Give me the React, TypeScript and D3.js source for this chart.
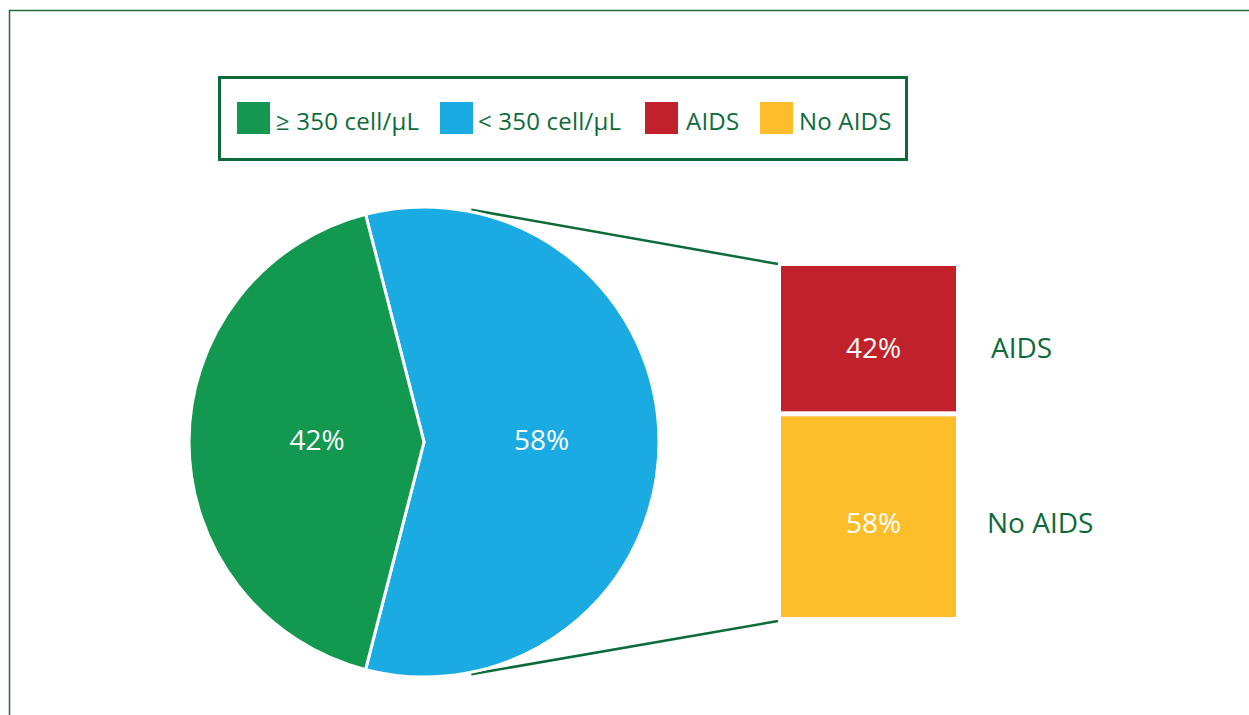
import React from "react";
import * as d3 from "d3";

const pieCategories = ["< 350 cell/μL", "≥ 350 cell/μL"];
const pieValues = [58, 42];
const pieColors = ["#1aabe2", "#13984f"];

const barCategories = ["AIDS", "No AIDS"];
const barValues = [42, 58];
const barColors = ["#c1212a", "#febd2b"];

const legendLabels = ["≥ 350 cell/μL", "< 350 cell/μL", "AIDS", "No AIDS"];
const legendColors = ["#13984f", "#1aabe2", "#c1212a", "#febd2b"];

const W = 1249;
const H = 715;
const DARK = "#0d6b3b";
const FONT = "'Open Sans', 'Noto Sans', sans-serif";

export default function App() {
  const cx = 424;
  const cy = 442;
  const r = 235;
  const start = (-14.4 * Math.PI) / 180;
  const pie = d3
    .pie<number>()
    .sort(null)
    .value((d) => d)
    .startAngle(start)
    .endAngle(start + 2 * Math.PI);
  const arcs = pie(pieValues);
  const arc = d3.arc<d3.PieArcDatum<number>>().innerRadius(0).outerRadius(r);
  const labelRadius = [r, r * 0.91];
  const labelDy = [10, 7];

  // bar
  const barX = 781;
  const barW = 175;
  const gap = 5;
  const y = d3.scaleLinear().domain([0, 100]).range([266, 612]);
  let acc = 0;
  const segs = barValues.map((v, i) => {
    const y0 = y(acc) + i * gap;
    const y1 = y(acc + v) + i * gap;
    acc += v;
    return { v, i, y0, y1 };
  });

  const barTop = segs[0].y0;
  const barBot = segs[segs.length - 1].y1;
  const a1 = (11.5 * Math.PI) / 180;
  const a2 = (168.5 * Math.PI) / 180;
  const p1 = [cx + (r + 2) * Math.sin(a1), cy - (r + 2) * Math.cos(a1)];
  const p2 = [cx + (r + 2) * Math.sin(a2), cy - (r + 2) * Math.cos(a2)];

  const legendX = [237, 440, 645, 760];
  const legendTextX = [276, 478, 686, 799];

  return (
    <svg width={W} height={H} style={{ position: "absolute", left: 0, top: 0 }}>
      <rect x={0} y={0} width={W} height={H} fill="#fff" />
      <path d={`M9.5,${H} L9.5,10.5 L${W},10.5`} fill="none" stroke="#1f6b3f" strokeWidth={1.5} />

      {/* legend */}
      <rect x={219.5} y={77.5} width={687} height={82} fill="none" stroke={DARK} strokeWidth={3} />
      {legendLabels.map((l, i) => (
        <g key={l}>
          <rect x={legendX[i]} y={102} width={33} height={32} fill={legendColors[i]} />
          <text x={legendTextX[i]} y={130} fontFamily={FONT} fontSize={24} fill={DARK} letterSpacing={0.2}>
            {l}
          </text>
        </g>
      ))}

      {/* connector lines */}
      <line x1={p1[0]} y1={p1[1]} x2={barX - 3} y2={barTop - 2} stroke={DARK} strokeWidth={2.5} />
      <line x1={p2[0]} y1={p2[1]} x2={barX - 3} y2={barBot + 4} stroke={DARK} strokeWidth={2.5} />

      {/* pie */}
      <g transform={`translate(${cx},${cy})`}>
        {arcs.map((a, i) => (
          <path key={i} d={arc(a) || ""} fill={pieColors[i]} stroke="#fff" strokeWidth={3} strokeLinejoin="miter" />
        ))}
        {arcs.map((a, i) => {
          const [lx, ly] = d3
            .arc<d3.PieArcDatum<number>>()
            .innerRadius(0)
            .outerRadius(labelRadius[i])
            .centroid(a);
          return (
            <text key={"t" + i} x={lx} y={ly - 2} dy="0.35em" textAnchor="middle" fontFamily={FONT} fontSize={28} fill="#fff">
              {pieValues[i]}%
            </text>
          );
        })}
      </g>

      {/* bar */}
      {segs.map((s) => (
        <g key={s.i}>
          <rect x={barX} y={s.y0} width={barW} height={s.y1 - s.y0} fill={barColors[s.i]} />
          <text x={barX + barW / 2 + 5} y={(s.y0 + s.y1) / 2 + labelDy[s.i]} dy="0.35em" textAnchor="middle" fontFamily={FONT} fontSize={28} fill="#fff">
            {s.v}%
          </text>
          <text x={barX + barW + (s.i === 0 ? 35 : 31)} y={(s.y0 + s.y1) / 2 + labelDy[s.i]} dy="0.35em" textAnchor="start" fontFamily={FONT} fontSize={28} fill={DARK}>
            {barCategories[s.i]}
          </text>
        </g>
      ))}
    </svg>
  );
}
